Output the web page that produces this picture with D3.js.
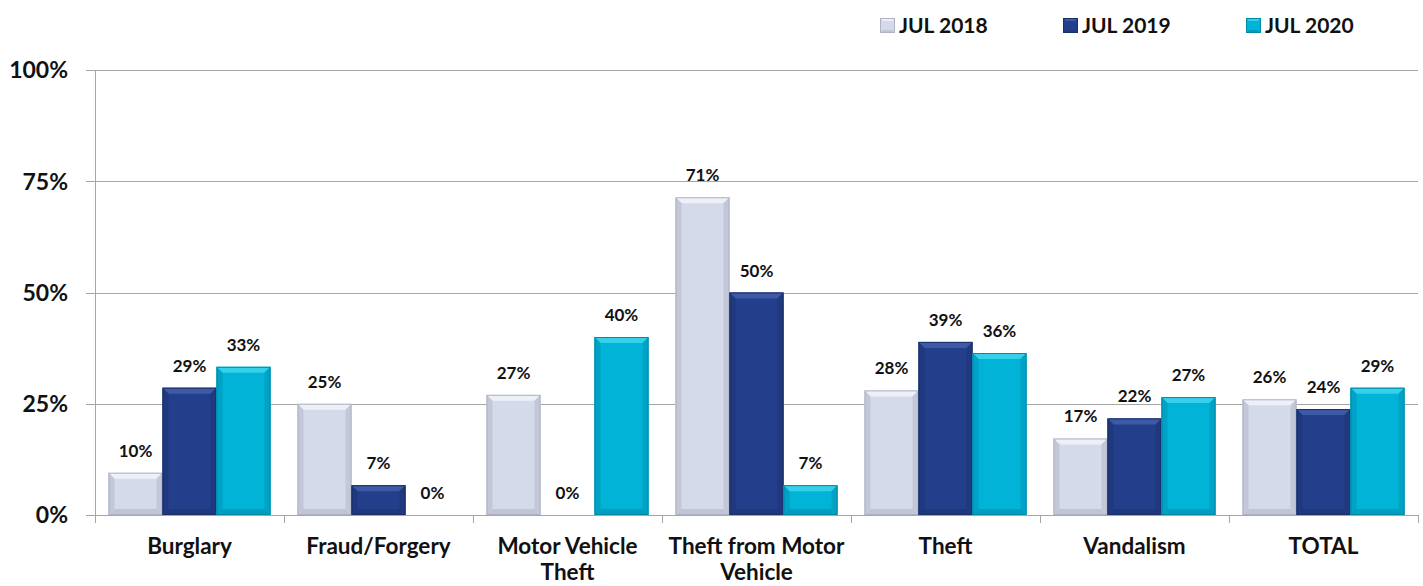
<!DOCTYPE html>
<html>
<head>
<meta charset="utf-8">
<script src="https://cdn.jsdelivr.net/npm/d3@7"></script>
<style>
  html, body { margin: 0; padding: 0; background: #fff; }
  svg { display: block; font-family: Lato, "Open Sans", sans-serif; }
</style>
</head>
<body>
<svg id="chart" width="1423" height="586"></svg>
<script>
const categories = ["Burglary", "Fraud/Forgery", "Motor Vehicle Theft", "Theft from Motor Vehicle", "Theft", "Vandalism", "TOTAL"];
const seriesNames = ["JUL 2018", "JUL 2019", "JUL 2020"];
const jul2018 = [0.095, 0.25, 0.27, 0.714, 0.28, 0.172, 0.26];
const jul2019 = [0.286, 0.067, 0, 0.50, 0.389, 0.217, 0.238];
const jul2020 = [0.333, 0, 0.40, 0.067, 0.364, 0.265, 0.286];
const yTicks = [0, 0.25, 0.5, 0.75, 1];

const seriesValues = [jul2018, jul2019, jul2020];
const palette = [
  { face: "#D5DAEB", top: "#EEF0F8", side: "#C3C8D8", bottom: "#C0C5D5", edge: "#AEB2C2" },
  { face: "#233F8B", top: "#3F5AA5", side: "#1F387E", bottom: "#1F387C", edge: "#1A2E6A" },
  { face: "#00B3D7", top: "#35D0EA", side: "#00A3C5", bottom: "#009EBE", edge: "#0089A8" }
];

const svg = d3.select("#chart");
const margin = { left: 95, right: 5, top: 70, bottom: 71 };
const W = 1423, H = 586;
const x0 = d3.scaleBand().domain(categories).range([margin.left, W - margin.right]).paddingInner(0.143).paddingOuter(0.0715);
const xBand = d3.scaleBand().domain(categories).range([margin.left, W - margin.right]).padding(0);
const x1 = d3.scaleBand().domain(seriesNames).range([0, x0.bandwidth()]).padding(0);
const y = d3.scaleLinear().domain([0, 1]).range([H - margin.bottom, margin.top]);

// gridlines
svg.append("g").selectAll("line").data(yTicks).join("line")
  .attr("x1", margin.left - 9).attr("x2", W - margin.right)
  .attr("y1", d => Math.round(y(d)) + 0.5).attr("y2", d => Math.round(y(d)) + 0.5)
  .attr("stroke", "#A6A6A6").attr("stroke-width", 1);

// y axis line
svg.append("line")
  .attr("x1", margin.left + 0.5).attr("x2", margin.left + 0.5)
  .attr("y1", y(1)).attr("y2", y(0))
  .attr("stroke", "#A6A6A6");

// y tick labels
svg.append("g").selectAll("text").data(yTicks).join("text")
  .attr("x", 68).attr("y", d => y(d)).attr("dy", "0.36em")
  .attr("text-anchor", "end").attr("font-size", 23).attr("font-weight", 700).attr("fill", "#111")
  .text(d => d3.format(".0%")(d));

// x category tick marks
const bounds = categories.map(c => xBand(c)).concat([W - margin.right]);
svg.append("g").selectAll("line").data(bounds).join("line")
  .attr("x1", d => Math.round(d) + 0.5).attr("x2", d => Math.round(d) + 0.5)
  .attr("y1", y(0)).attr("y2", y(0) + 8)
  .attr("stroke", "#A6A6A6");

// bars
const bevel = 6;
const groups = svg.append("g").selectAll("g").data(categories).join("g")
  .attr("transform", c => `translate(${x0(c)},0)`);

groups.each(function(c, ci) {
  const g = d3.select(this);
  seriesNames.forEach((s, si) => {
    const v = seriesValues[si][ci];
    if (v <= 0) return;
    const bx = x1(s), bw = x1.bandwidth();
    const by = y(v), bh = y(0) - y(v);
    const col = palette[si];
    const b = Math.min(bevel, bh / 2);
    const bg = g.append("g");
    bg.append("rect").attr("x", bx).attr("y", by).attr("width", bw).attr("height", bh).attr("fill", col.face);
    bg.append("polygon").attr("points", [[bx, by], [bx + bw, by], [bx + bw - b, by + b], [bx + b, by + b]].join(" ")).attr("fill", col.top);
    bg.append("polygon").attr("points", [[bx, by], [bx + b, by + b], [bx + b, by + bh - b], [bx, by + bh]].join(" ")).attr("fill", col.side);
    bg.append("polygon").attr("points", [[bx + bw, by], [bx + bw - b, by + b], [bx + bw - b, by + bh - b], [bx + bw, by + bh]].join(" ")).attr("fill", col.side);
    bg.append("polygon").attr("points", [[bx, by + bh], [bx + b, by + bh - b], [bx + bw - b, by + bh - b], [bx + bw, by + bh]].join(" ")).attr("fill", col.bottom);
    bg.append("rect").attr("x", bx + 0.5).attr("y", by + 0.5).attr("width", bw - 1).attr("height", Math.max(0, bh - 1))
      .attr("fill", "none").attr("stroke", col.edge).attr("stroke-width", 1);
  });
  seriesNames.forEach((s, si) => {
    const v = seriesValues[si][ci];
    g.append("text")
      .attr("x", x1(s) + x1.bandwidth() / 2)
      .attr("y", y(v) - 16)
      .attr("text-anchor", "middle").attr("font-size", 17).attr("font-weight", 700).attr("fill", "#111")
      .text(d3.format(".0%")(v));
  });
});

// category labels with wrapping
const maxW = 186;
categories.forEach(c => {
  const cx = xBand(c) + xBand.bandwidth() / 2;
  const t = svg.append("text")
    .attr("x", cx).attr("y", 554)
    .attr("text-anchor", "middle").attr("font-size", 22.5).attr("font-weight", 700).attr("fill", "#111");
  const words = c.split(" ");
  let line = [];
  let ts = t.append("tspan").attr("x", cx).attr("dy", 0);
  words.forEach(w => {
    line.push(w);
    ts.text(line.join(" "));
    if (ts.node().getComputedTextLength() > maxW && line.length > 1) {
      line.pop();
      ts.text(line.join(" "));
      line = [w];
      ts = t.append("tspan").attr("x", cx).attr("dy", 26).text(w);
    }
  });
});

// legend
const legendX = [880, 1063, 1246];
seriesNames.forEach((s, si) => {
  const col = palette[si];
  const lx = legendX[si], ly = 18, sz = 15;
  const lg = svg.append("g");
  lg.append("rect").attr("x", lx).attr("y", ly).attr("width", sz).attr("height", sz).attr("fill", col.face);
  lg.append("polygon").attr("points", [[lx, ly], [lx + sz, ly], [lx + sz - 3, ly + 3], [lx + 3, ly + 3]].join(" ")).attr("fill", col.top);
  lg.append("polygon").attr("points", [[lx, ly + sz], [lx + 3, ly + sz - 3], [lx + sz - 3, ly + sz - 3], [lx + sz, ly + sz]].join(" ")).attr("fill", col.bottom);
  lg.append("rect").attr("x", lx + 0.5).attr("y", ly + 0.5).attr("width", sz - 1).attr("height", sz - 1).attr("fill", "none").attr("stroke", col.edge);
  lg.append("text").attr("x", lx + sz + 4).attr("y", ly + sz / 2).attr("dy", "0.36em")
    .attr("font-size", 21).attr("font-weight", 700).attr("fill", "#111").text(s);
});
</script>
</body>
</html>
